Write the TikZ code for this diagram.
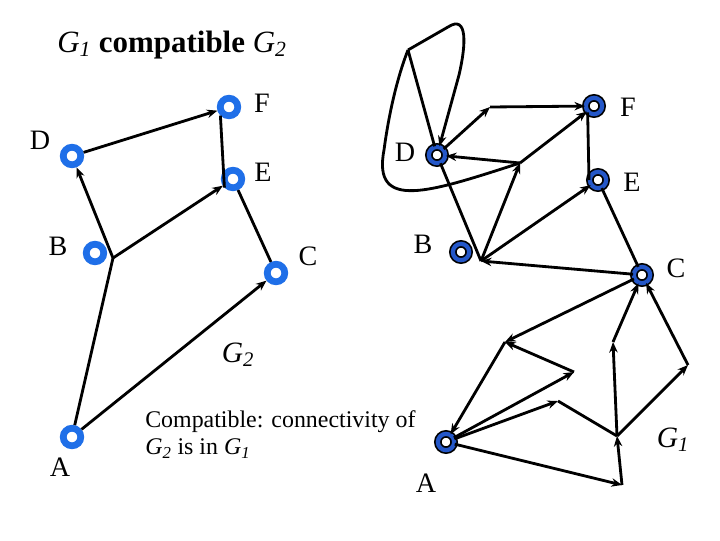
\documentclass[tikz,border=0pt]{standalone}
\usepackage{fontspec}
\setmainfont{Liberation Serif}
\usetikzlibrary{arrows.meta}
\definecolor{ringblue}{HTML}{1F6FE8}
\definecolor{ringdark}{HTML}{2457C8}
\newcommand{\gname}[1]{\textit{\mdseries G}\textsubscript{\textit{\mdseries #1}}}

\begin{document}
\begin{tikzpicture}[x=0.025cm, y=-0.025cm,
    every node/.style={font=\fontsize{20}{22}\selectfont},
    vtx/.style={circle, draw=ringblue, line width=4.8pt, fill=white,
                minimum size=12.5pt, inner sep=0pt},
    vtxg/.style={circle, draw=black, double=ringdark, double distance=3pt,
                 line width=1.2pt, fill=white, minimum size=11.6pt, inner sep=0pt},
    arr/.style={-{Stealth[length=7.5pt, width=6pt]}, line width=2pt},
    ln/.style={line width=2pt},
    lbl/.style={inner sep=0pt}
]
    \useasboundingbox (0,0) rectangle (720,540);

    % titles and notes
    \node[font=\fontsize{22}{24}\selectfont\bfseries] (title) at (172,45)
        {\gname{1} compatible \gname{2}};
    \node[font=\fontsize{21}{24}\selectfont] (g2lbl) at (238,355) {\gname{2}};
    \node[font=\fontsize{21}{24}\selectfont] (g1lbl) at (673,440) {\gname{1}};
    \node[font=\fontsize{17}{19.5}\selectfont, anchor=north west, align=left, inner sep=0pt]
        (note) at (145,410) {Compatible: connectivity of\\ \gname{2} is in \gname{1}};

    % G2 (left)
    \node[vtx] (d2) at (72,156) {};
    \node[vtx] (f2) at (229,107) {};
    \node[vtx] (e2) at (233,179) {};
    \node[vtx] (b2) at (95,253) {};
    \node[vtx] (c2) at (276,273) {};
    \node[vtx] (a2) at (72,437) {};
    \coordinate (j2) at (113,258);

    \node[lbl] (dl2) at (40,140) {D};
    \node[lbl] (fl2) at (262,103) {F};
    \node[lbl] (el2) at (263,172) {E};
    \node[lbl] (bl2) at (58,246) {B};
    \node[lbl] (cl2) at (308,256) {C};
    \node[lbl] (al2) at (60,467) {A};

    \draw[arr] (d2) -- (f2);
    \draw[ln]  (f2.south west) -- (e2.south west);
    \draw[arr] (j2) -- (e2);
    \draw[arr] (j2) -- (d2);
    \draw[ln]  (a2) -- (j2);
    \draw[ln]  (e2) -- (c2);
    \draw[arr] (a2) -- (c2);

    % G1 (right)
    \node[vtxg] (d1) at (437,155) {};
    \node[vtxg] (f1) at (594,106) {};
    \node[vtxg] (e1) at (598,180) {};
    \node[vtxg] (b1) at (461,252) {};
    \node[vtxg] (c1) at (642,275) {};
    \node[vtxg] (a1) at (446,442) {};
    \coordinate (top1) at (408,50);
    \coordinate (up1)  at (490,107);
    \coordinate (hub1) at (520,163);
    \coordinate (bj1)  at (481,261);
    \coordinate (q1) at (505,342);
    \coordinate (q2) at (574,372);
    \coordinate (q3) at (558,401);
    \coordinate (q4) at (617,436);
    \coordinate (q5) at (622,485);
    \coordinate (q6) at (613,342);
    \coordinate (q7) at (688,365);

    \node[lbl] (dl1) at (405,152) {D};
    \node[lbl] (fl1) at (628,107) {F};
    \node[lbl] (el1) at (632,182) {E};
    \node[lbl] (bl1) at (423,244) {B};
    \node[lbl] (cl1) at (676,268) {C};
    \node[lbl] (al1) at (426,483) {A};

    \draw[arr] (d1) -- (up1);
    \draw[arr] (up1) -- (f1);
    \draw[arr] (hub1) -- (d1);
    \draw[arr] (hub1) -- (f1);
    \draw[ln]  (hub1) .. controls (430,192) and (372,212) .. (384,150)
                      .. controls (390,105) and (400,70) .. (top1);
    \draw[ln]  (top1) -- (d1);
    \draw[arr] (top1) -- (448,27) .. controls (468,14) and (466,45) .. (459,75) -- (d1);
    \draw[ln]  (d1) -- (bj1);
    \draw[arr] (bj1) -- (hub1);
    \draw[arr] (bj1) -- (e1);
    \draw[arr] (c1) -- (bj1);
    \draw[ln]  (f1.south west) -- (e1.west);
    \draw[ln]  (e1) -- (c1);
    \draw[arr] (c1) -- (q1);
    \draw[arr] (q1) -- (a1);
    \draw[arr] (a1) -- (q2);
    \draw[arr] (q2) -- (q1);
    \draw[arr] (a1) -- (q3);
    \draw[ln]  (q3) -- (q4);
    \draw[arr] (a1) -- (q5);
    \draw[arr] (q5) -- (q4);
    \draw[arr] (q4) -- (q6);
    \draw[arr] (q6) -- (c1);
    \draw[arr] (q4) -- (q7);
    \draw[arr] (q7) -- (c1);
\end{tikzpicture}
\end{document}
